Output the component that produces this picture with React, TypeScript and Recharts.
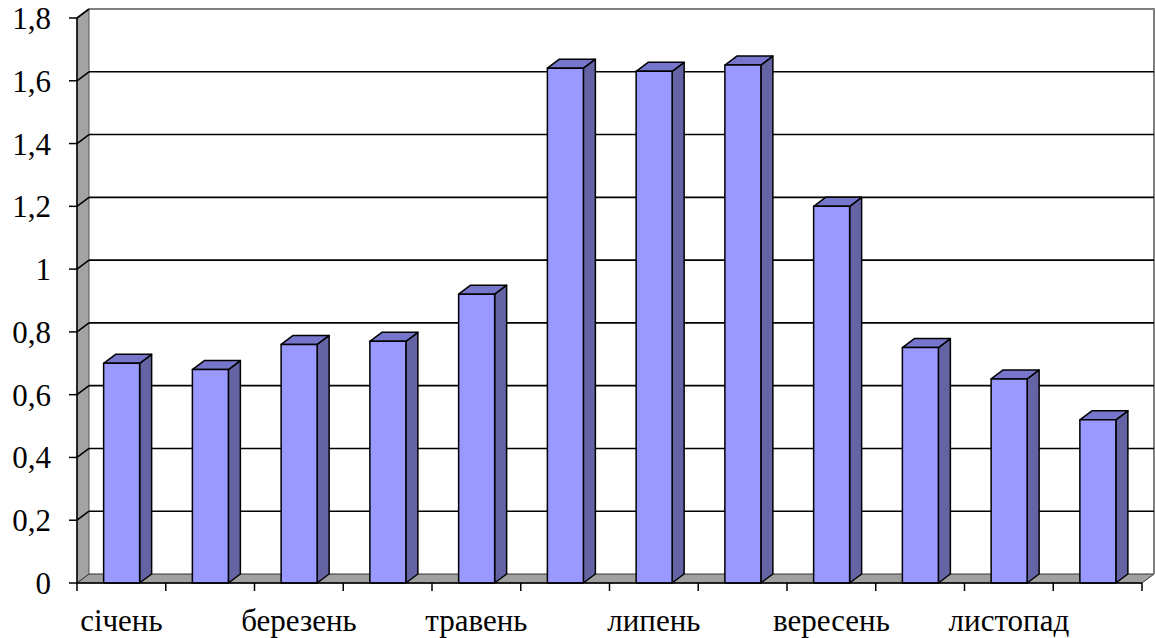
import React from "react"
import { Bar, BarChart, CartesianGrid, XAxis, YAxis } from "recharts"

const months = [
  "січень",
  "лютий",
  "березень",
  "квітень",
  "травень",
  "червень",
  "липень",
  "серпень",
  "вересень",
  "жовтень",
  "листопад",
  "грудень",
]

const values = [0.7, 0.68, 0.76, 0.77, 0.92, 1.64, 1.63, 1.65, 1.2, 0.75, 0.65, 0.52]

const yTicks = [0, 0.2, 0.4, 0.6, 0.8, 1, 1.2, 1.4, 1.6, 1.8]

const data = months.map((month, i) => ({ month, value: values[i] }))

// chart frame
const W = 1155
const H = 638
const MARGIN = { top: 18, right: 13, bottom: 0, left: 0 }
const Y_AXIS_W = 77
const X_AXIS_H = 55
const PLOT_W = W - MARGIN.left - MARGIN.right - Y_AXIS_W
const BAND = PLOT_W / months.length

// 3d depth offset
const DX = 12
const DY = 9

const FONT = "Liberation Serif, Times New Roman, DejaVu Serif, serif"

// side wall, floor and back wall outline
function Walls(props: any) {
  const { x1, y1, x2, index, y, height } = props
  const bottom = y + height
  if (Math.abs(y1 - bottom) > 1) return <g key={`w-${index}`} />
  const top = y
  return (
    <g key={`w-${index}`}>
      <rect x={x1 + DX} y={top - DY} width={x2 - x1} height={height} fill="#ffffff" />
      <polygon
        points={`${x1},${top} ${x1 + DX},${top - DY} ${x1 + DX},${bottom - DY} ${x1},${bottom}`}
        fill="#a3a3a3"
        stroke="#555"
        strokeWidth={1}
      />
      <polygon
        points={`${x1},${bottom} ${x1 + DX},${bottom - DY} ${x2 + DX},${bottom - DY} ${x2},${bottom}`}
        fill="#a0a0a0"
        stroke="#333"
        strokeWidth={1}
      />
      <polyline
        points={`${x1 + DX},${top - DY} ${x2 + DX},${top - DY} ${x2 + DX},${bottom - DY}`}
        fill="none"
        stroke="#808080"
        strokeWidth={2}
      />
    </g>
  )
}

// gridlines on the back wall, with the diagonal across the side wall
function BackGridLine(props: any) {
  const { x1, y1, x2, index, y, height } = props
  if (Math.abs(y1 - (y + height)) < 1) return <g key={`g-${index}`} />
  const isTop = Math.abs(y1 - y) < 1
  return (
    <g key={`g-${index}`}>
      <line x1={x1} y1={y1} x2={x1 + DX} y2={y1 - DY} stroke="#000" strokeWidth={1.6} />
      {!isTop && (
        <line x1={x1 + DX} y1={y1 - DY} x2={x2 + DX} y2={y1 - DY} stroke="#000" strokeWidth={1.6} />
      )}
    </g>
  )
}

function Bar3D(props: any) {
  const { x, y, width, height } = props
  if (height == null || height <= 0) return <g />
  const r = x + width
  const b = y + height
  return (
    <g stroke="#000" strokeWidth={1.5} strokeLinejoin="round">
      <polygon points={`${r},${y} ${r + DX},${y - DY} ${r + DX},${b - DY} ${r},${b}`} fill="#6464a4" />
      <polygon points={`${x},${y} ${x + DX},${y - DY} ${r + DX},${y - DY} ${r},${y}`} fill="#7676cc" />
      <rect x={x} y={y} width={width} height={height} fill="#9999ff" />
    </g>
  )
}

function MonthTick(props: any) {
  const { x, y, payload, index } = props
  const i = payload?.index ?? index
  const left = x - BAND / 2
  return (
    <g>
      <line x1={left} y1={y} x2={left} y2={y + 8} stroke="#000" strokeWidth={1.5} />
      {i === months.length - 1 && (
        <line x1={x + BAND / 2} y1={y} x2={x + BAND / 2} y2={y + 8} stroke="#000" strokeWidth={1.5} />
      )}
      {i % 2 === 0 && (
        <text x={x} y={y + 48} textAnchor="middle" style={{ fontFamily: FONT, fontSize: 31 }} fill="#000">
          {payload.value}
        </text>
      )}
    </g>
  )
}

function ValueTick(props: any) {
  const { x, y, payload } = props
  return (
    <text
      x={x}
      y={y}
      dy={11}
      textAnchor="end"
      style={{ fontFamily: FONT, fontSize: 31 }}
      fill="#000"
    >
      {String(payload.value).replace(".", ",")}
    </text>
  )
}

export default function App() {
  return (
    <div style={{ position: "absolute", left: 0, top: 0, background: "#fff" }}>
      <BarChart width={W} height={H} data={data} margin={MARGIN} barCategoryGap="30%">
        <CartesianGrid vertical={false} horizontal={(p: any) => Walls(p)} stroke="none" />
        <CartesianGrid vertical={false} horizontal={(p: any) => BackGridLine(p)} />
        <XAxis
          dataKey="month"
          height={X_AXIS_H}
          interval={0}
          tickLine={false}
          tickSize={0}
          tickMargin={0}
          axisLine={{ stroke: "#000", strokeWidth: 1.5 }}
          tick={(p: any) => <MonthTick {...p} />}
        />
        <YAxis
          width={Y_AXIS_W}
          domain={[0, 1.8]}
          ticks={yTicks}
          interval={0}
          tickSize={8}
          tickMargin={18}
          axisLine={{ stroke: "#000", strokeWidth: 1.5 }}
          tickLine={{ stroke: "#000", strokeWidth: 1.5 }}
          tick={(p: any) => <ValueTick {...p} />}
        />
        <Bar dataKey="value" isAnimationActive={false} shape={(p: any) => <Bar3D {...p} />} />
      </BarChart>
    </div>
  )
}
